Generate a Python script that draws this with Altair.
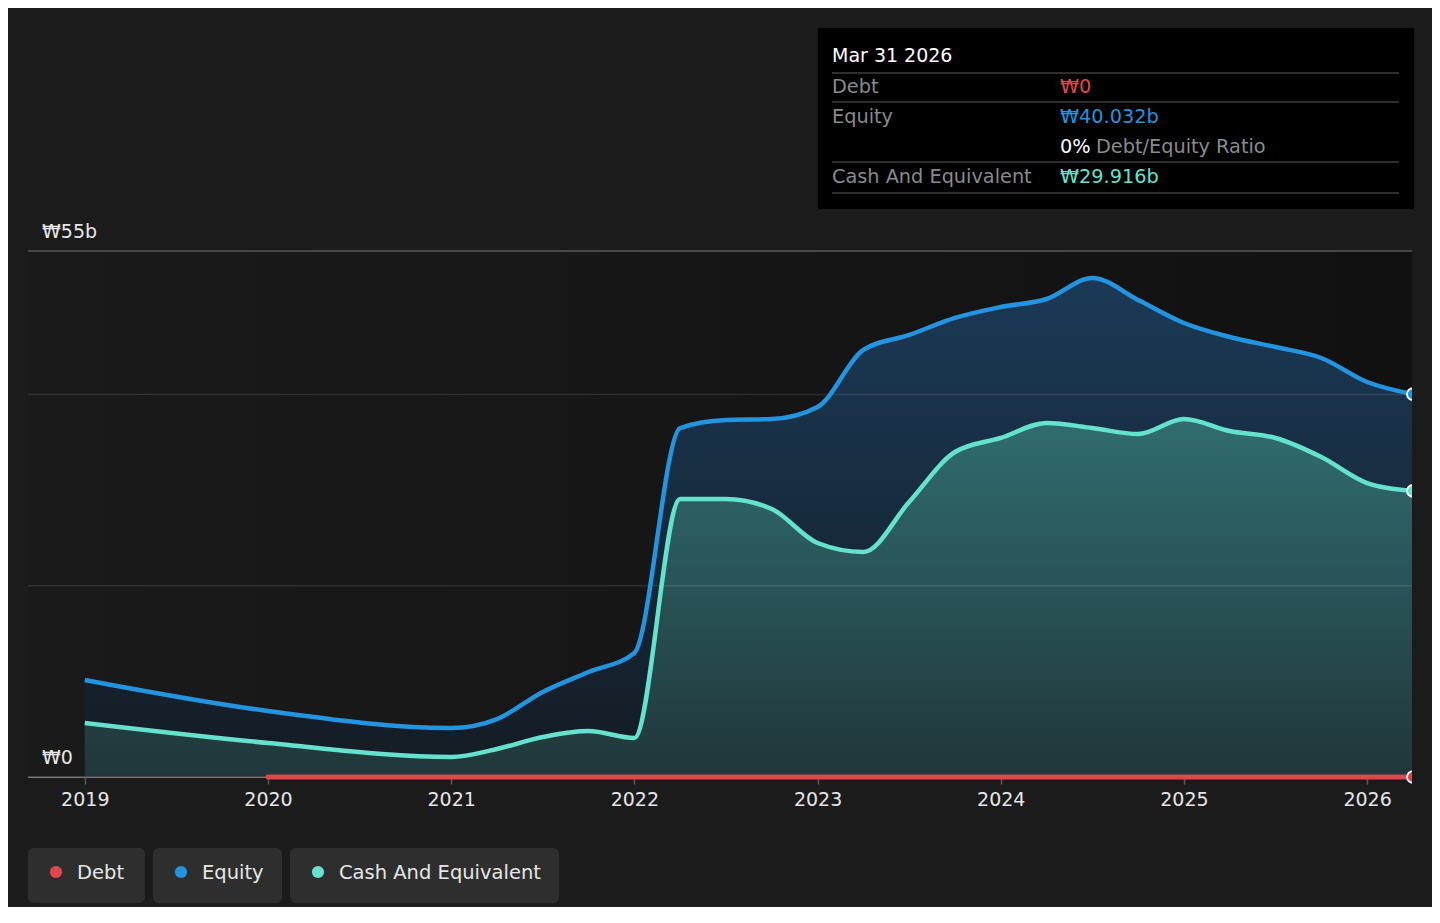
import altair as alt
import pandas as pd

# ---------------- data ----------------
quarters = [2019.0, 2020.0, 2021.0, 2021.25, 2021.5, 2021.75, 2022.0, 2022.25, 2022.5, 2022.75,
            2023.0, 2023.25, 2023.5, 2023.75, 2024.0, 2024.25, 2024.5, 2024.75,
            2025.0, 2025.25, 2025.5, 2025.75, 2026.0, 2026.25]
equity = [10.14, 6.90, 5.12, 6.06, 8.89, 10.98, 12.97, 36.49, 37.33, 37.43,
          38.69, 44.65, 46.22, 48.00, 49.14, 49.98, 52.18, 49.88,
          47.47, 46.01, 44.96, 43.81, 41.30, 40.032]
cash = [5.65, 3.56, 2.09, 2.93, 4.18, 4.81, 4.08, 29.07, 29.07, 28.02,
        24.47, 23.53, 28.75, 33.98, 35.45, 37.02, 36.49, 35.86,
        37.43, 36.18, 35.45, 33.46, 30.74, 29.916]
debt_dates = [2020.0, 2021.0, 2021.25, 2021.5, 2021.75, 2022.0, 2022.25, 2022.5, 2022.75,
              2023.0, 2023.25, 2023.5, 2023.75, 2024.0, 2024.25, 2024.5, 2024.75,
              2025.0, 2025.25, 2025.5, 2025.75, 2026.0, 2026.25]
debt = [0, 0, 0, 0, 0, 0, 0, 0, 0, 0, 0, 0, 0, 0, 0, 0, 0, 0, 0, 0, 0, 0, 0]
year_ticks = [2019, 2020, 2021, 2022, 2023, 2024, 2025, 2026]
grid_values = [20, 40]
y_top = 55
y_labels = ["₩55b", "₩0"]
series_names = ["Debt", "Equity", "Cash And Equivalent"]
tooltip_date = "Mar 31 2026"
tooltip_debt = "₩0"
tooltip_equity = "₩40.032b"
tooltip_ratio = "0%"
tooltip_cash = "₩29.916b"

# ---------------- styles ----------------
FONT = "DejaVu Sans"
BG = "#1b1b1b"
C_DEBT = "#e0474c"
C_EQ = "#2394df"
C_CASH = "#64e2cd"
W, H = 1384, 526

df_eq = pd.DataFrame({"date": quarters, "value": equity})
df_cash = pd.DataFrame({"date": quarters, "value": cash})
df_debt = pd.DataFrame({"date": debt_dates, "value": debt})
df_last = pd.DataFrame({"date": [quarters[-1], quarters[-1], debt_dates[-1]],
                        "value": [equity[-1], cash[-1], debt[-1]],
                        "series": ["Equity", "Cash And Equivalent", "Debt"]})

xscale = alt.Scale(domain=[2018.69, 2026.245], nice=False, zero=False)
yscale = alt.Scale(domain=[0, y_top], nice=False, zero=True)
xaxis = alt.Axis(values=year_ticks, format="d", title=None, grid=False, domain=False,
                 labelColor="#e6e6e6", labelFontSize=19, labelFont=FONT, labelPadding=6,
                 tickColor="#5a5a5a", tickSize=7, tickWidth=1.5, labelFlush=False)

def X(field="date"):
    return alt.X(f"{field}:Q", scale=xscale, axis=xaxis)

def Y(field="value"):
    return alt.Y(f"{field}:Q", scale=yscale, axis=None)

one = alt.Data(values=[{}])

# plot background (horizontal gradient)
bg = alt.Chart(pd.DataFrame({"x0": [2018.69], "x1": [2026.245], "y0": [0], "y1": [y_top]})).mark_rect(
    fill=alt.Gradient(gradient="linear", x1=0, x2=1, y1=0, y2=0,
                      stops=[alt.GradientStop(color="#1a1a1a", offset=0),
                             alt.GradientStop(color="#111111", offset=1)])
).encode(x=X("x0"), x2="x1:Q", y=Y("y0"), y2="y1:Q")

area_eq = alt.Chart(df_eq).mark_area(
    interpolate="monotone",
    fill=alt.Gradient(gradient="linear", x1=0, x2=0, y1=0, y2=1,
                      stops=[alt.GradientStop(color="#1a3a57", offset=0),
                             alt.GradientStop(color="#141b23", offset=1)])
).encode(x=X(), y=Y())

area_cash = alt.Chart(df_cash).mark_area(
    interpolate="monotone",
    fill=alt.Gradient(gradient="linear", x1=0, x2=0, y1=0, y2=1,
                      stops=[alt.GradientStop(color="#306d70", offset=0),
                             alt.GradientStop(color="#20363a", offset=1)])
).encode(x=X(), y=Y())

grid = alt.Chart(pd.DataFrame({"g": grid_values})).mark_rule(
    color="#ffffff", opacity=0.1, strokeWidth=1.5).encode(y=Y("g"))
grid_top = alt.Chart(pd.DataFrame({"g": [y_top]})).mark_rule(
    color="#474747", strokeWidth=2).encode(y=Y("g"))
domain = alt.Chart(pd.DataFrame({"g": [0]})).mark_rule(
    color="#555555", strokeWidth=1.5).encode(y=Y("g"))

line_eq = alt.Chart(df_eq).mark_line(interpolate="monotone", color=C_EQ, strokeWidth=4.5).encode(x=X(), y=Y())
line_cash = alt.Chart(df_cash).mark_line(interpolate="monotone", color=C_CASH, strokeWidth=4.5).encode(x=X(), y=Y())
line_debt = alt.Chart(df_debt).mark_line(interpolate="monotone", color=C_DEBT, strokeWidth=5,
                                         strokeCap="round").encode(x=X(), y=Y())

pts = alt.Chart(df_last).mark_point(filled=True, size=140, stroke="white", strokeWidth=1.8,
                                    opacity=1).encode(
    x=X(), y=Y(),
    fill=alt.Fill("series:N", scale=alt.Scale(domain=series_names, range=[C_DEBT, C_EQ, C_CASH]),
                  legend=None))

# mask right of plot edge (points are cut at the plot edge)
mask = alt.Chart(one).mark_rect(color=BG).encode(
    x=alt.value(W), x2=alt.value(W + 16), y=alt.value(-2), y2=alt.value(H + 12))

ylab = alt.Chart(pd.DataFrame({"v": [y_top, 0], "t": y_labels})).mark_text(
    align="left", baseline="alphabetic", dy=-13, fontSize=19, font=FONT, color="#e6e6e6"
).encode(x=alt.value(14), y=Y("v"), text="t:N")

layers = [bg, area_eq, area_cash, grid, grid_top, domain, line_eq, line_cash, line_debt, pts, mask, ylab]

# ---------------- tooltip box ----------------
layers.append(alt.Chart(one).mark_rect(color="#000000").encode(
    x=alt.value(790), x2=alt.value(1386), y=alt.value(-223), y2=alt.value(-42)))
for yy in [-178, -149, -89, -58]:
    layers.append(alt.Chart(one).mark_rule(color="#3e3e3e", strokeWidth=1.5).encode(
        x=alt.value(804), x2=alt.value(1371), y=alt.value(yy)))

def txt(s, x, y, color, size=19.3):
    return alt.Chart(one).mark_text(text=s, align="left", baseline="alphabetic", fontSize=size,
                                    font=FONT, color=color).encode(x=alt.value(x), y=alt.value(y))

GRAY = "#8a8a8a"
layers += [
    txt(tooltip_date, 804, -189, "#ffffff", 19),
    txt("Debt", 804, -158, GRAY), txt(tooltip_debt, 1032, -158, C_DEBT),
    txt("Equity", 804, -128, GRAY), txt(tooltip_equity, 1032, -128, C_EQ),
    txt(tooltip_ratio, 1032, -98, "#ffffff"), txt("Debt/Equity Ratio", 1068, -98, GRAY),
    txt("Cash And Equivalent", 804, -68, GRAY), txt(tooltip_cash, 1032, -68, C_CASH),
]

# ---------------- legend buttons ----------------
legend_boxes = [(0, 117), (125, 254), (262, 531)]
legend_cols = [C_DEBT, C_EQ, C_CASH]
for (x0, x1), name, col in zip(legend_boxes, series_names, legend_cols):
    layers.append(alt.Chart(one).mark_rect(color="#2e2e2e", cornerRadius=6).encode(
        x=alt.value(x0), x2=alt.value(x1), y=alt.value(597), y2=alt.value(652)))
    layers.append(alt.Chart(one).mark_point(filled=True, size=150, color=col, opacity=1).encode(
        x=alt.value(x0 + 28), y=alt.value(621)))
    layers.append(txt(name, x0 + 49, 628, "#e6e6e6", 19.5))

chart = alt.layer(*layers).properties(
    width=W, height=H,
    autosize=alt.AutoSizeParams(type="none"),
    padding={"left": 20, "top": 243, "right": 20, "bottom": 130},
    background=BG,
).configure_view(stroke=None).configure(font=FONT)

chart.save("out.html", embed_options={"renderer": "svg", "actions": False})
